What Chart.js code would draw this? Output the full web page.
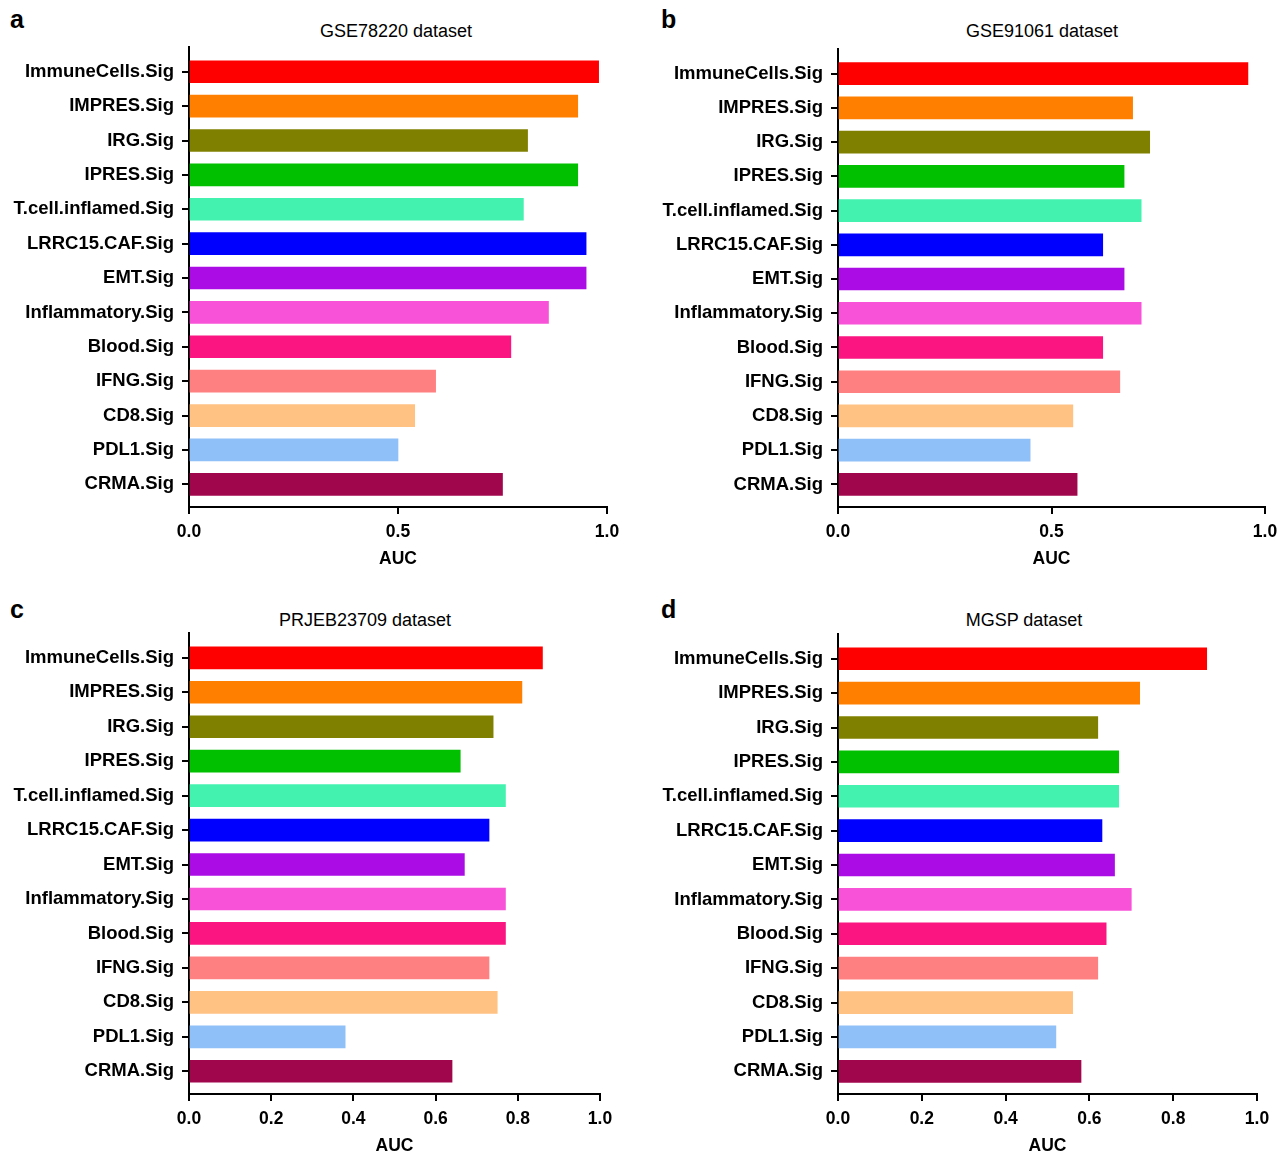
<!DOCTYPE html>
<html>
<head>
<meta charset="utf-8">
<script src="https://cdn.jsdelivr.net/npm/chart.js@4.4.0/dist/chart.umd.min.js"></script>
<style>
  html, body { margin: 0; padding: 0; background: #fff; overflow: hidden; }
  body { width: 1277px; height: 1151px; position: relative; font-family: 'Liberation Sans', Arial, Helvetica, sans-serif; color: #000; }
  canvas { position: absolute; }
  .letter { position: absolute; font-weight: bold; font-size: 25px; line-height: 25px; }
  .title { position: absolute; font-size: 18px; line-height: 18px; white-space: nowrap; transform: translate(-50%, -50%); }
</style>
</head>
<body>
<div class="letter" style="left:10px; top:7px;">a</div>
<div class="letter" style="left:661px; top:7px;">b</div>
<div class="letter" style="left:10px; top:597px;">c</div>
<div class="letter" style="left:661px; top:597px;">d</div>

<div class="title" style="left:396px; top:31px;">GSE78220 dataset</div>
<div class="title" style="left:1042px; top:31px;">GSE91061 dataset</div>
<div class="title" style="left:365px; top:620px;">PRJEB23709 dataset</div>
<div class="title" style="left:1024px; top:620px;">MGSP dataset</div>

<canvas id="chartA" width="640" height="580" style="left:0px; top:0px;"></canvas>
<canvas id="chartB" width="640" height="580" style="left:649px; top:0px;"></canvas>
<canvas id="chartC" width="640" height="580" style="left:0px; top:580px;"></canvas>
<canvas id="chartD" width="640" height="580" style="left:649px; top:580px;"></canvas>

<script>
// signatures, top to bottom
const categories = ['ImmuneCells.Sig', 'IMPRES.Sig', 'IRG.Sig', 'IPRES.Sig', 'T.cell.inflamed.Sig',
  'LRRC15.CAF.Sig', 'EMT.Sig', 'Inflammatory.Sig', 'Blood.Sig', 'IFNG.Sig', 'CD8.Sig', 'PDL1.Sig', 'CRMA.Sig'];

const barColors = ['#ff0000', '#ff8000', '#808000', '#00c000', '#44f2b0', '#0000ff', '#ab0ce5',
  '#f852d8', '#fa1580', '#ff8080', '#ffc283', '#90c0f8', '#a0064c'];

// AUC per dataset
const gse78220Auc   = [0.98, 0.93, 0.81, 0.93, 0.80, 0.95, 0.95, 0.86, 0.77, 0.59, 0.54, 0.50, 0.75];
const gse91061Auc   = [0.96, 0.69, 0.73, 0.67, 0.71, 0.62, 0.67, 0.71, 0.62, 0.66, 0.55, 0.45, 0.56];
const prjeb23709Auc = [0.86, 0.81, 0.74, 0.66, 0.77, 0.73, 0.67, 0.77, 0.77, 0.73, 0.75, 0.38, 0.64];
const mgspAuc       = [0.88, 0.72, 0.62, 0.67, 0.67, 0.63, 0.66, 0.70, 0.64, 0.62, 0.56, 0.52, 0.58];

// x tick spacing (top row / bottom row)
const xStepTop = 0.5;
const xStepBottom = 0.2;

const fontFamily = "'Liberation Sans', Arial, Helvetica, sans-serif";
Chart.defaults.font.family = fontFamily;
Chart.defaults.color = '#000';

function drawPanel(id, values, xStep, pad) {
  new Chart(document.getElementById(id), {
    type: 'bar',
    data: {
      datasets: [{
        data: values.map((v, i) => ({ x: v, y: i })),
        backgroundColor: barColors,
        borderWidth: 0,
        barThickness: 22
      }]
    },
    options: {
      indexAxis: 'y',
      responsive: false,
      animation: false,
      layout: { padding: pad },
      plugins: {
        legend: { display: false },
        tooltip: { enabled: false }
      },
      scales: {
        x: {
          type: 'linear',
          min: 0,
          max: 1,
          border: { display: true, color: '#000', width: 2 },
          grid: { drawOnChartArea: false, drawTicks: true, tickLength: 7, color: '#000', lineWidth: 2 },
          ticks: {
            stepSize: xStep,
            padding: 8,
            font: { size: 17.5, weight: 'bold' },
            callback: v => v.toFixed(1)
          },
          title: {
            display: true,
            text: 'AUC',
            padding: { top: 0, bottom: 0 },
            font: { size: 17.5, weight: 'bold' }
          },
          afterFit: s => { s.height = 63; }
        },
        y: {
          type: 'linear',
          reverse: true,
          offset: false,
          min: -0.72,
          max: 12.66,
          border: { display: true, color: '#000', width: 2 },
          grid: { offset: false, drawOnChartArea: false, drawTicks: true, tickLength: 7, color: '#000', lineWidth: 2 },
          afterBuildTicks: s => { s.ticks = categories.map((c, i) => ({ value: i })); },
          ticks: {
            padding: 8,
            font: { size: 18.5, weight: 'bold' },
            callback: v => categories[v]
          },
          afterFit: s => { s.width = 189; }
        }
      }
    }
  });
}

drawPanel('chartA', gse78220Auc, xStepTop, { left: 0, right: 33, top: 47, bottom: 10 });
drawPanel('chartB', gse91061Auc, xStepTop, { left: 0, right: 24, top: 49, bottom: 10 });
drawPanel('chartC', prjeb23709Auc, xStepBottom, { left: 0, right: 40, top: 53, bottom: 3 });
drawPanel('chartD', mgspAuc, xStepBottom, { left: 0, right: 32, top: 54, bottom: 3 });
</script>
</body>
</html>
